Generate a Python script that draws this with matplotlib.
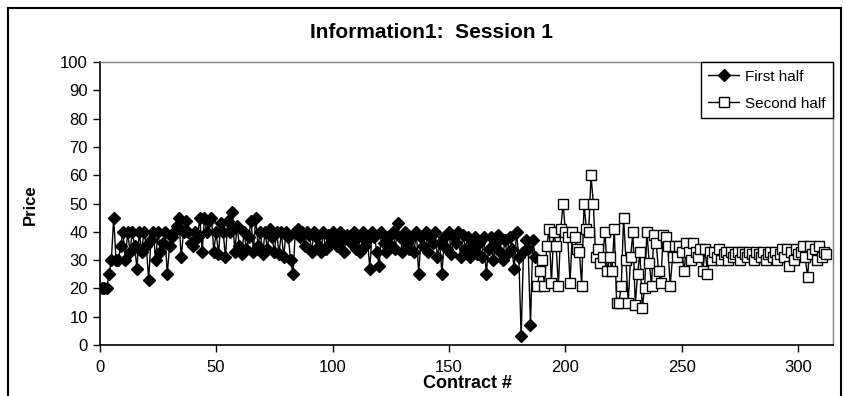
import matplotlib
matplotlib.use("Agg")
import matplotlib.pyplot as plt
import matplotlib.patches as patches
import numpy as np

plt.rcParams['font.family'] = ['Liberation Sans', 'DejaVu Sans']

# first half: contracts 1..187
first_half = [
    20, 20, 20, 25, 30, 45, 30, 30, 35, 40,
    30, 40, 33, 40, 35, 27, 40, 33, 40, 35,
    23, 37, 40, 30, 40, 33, 36, 40, 25, 35,
    38, 40, 42, 45, 31, 40, 44, 40, 36, 35,
    40, 38, 45, 33, 45, 40, 44, 45, 33, 40,
    32, 43, 40, 31, 44, 40, 47, 33, 42, 35,
    32, 40, 34, 38, 44, 33, 45, 35, 40, 32,
    40, 34, 41, 38, 33, 40, 32, 40, 31, 40,
    38, 30, 25, 40, 41, 38, 40, 35, 40, 39,
    33, 40, 38, 35, 33, 40, 34, 39, 36, 40,
    38, 35, 40, 37, 33, 39, 38, 36, 40, 34,
    38, 33, 40, 35, 37, 27, 40, 38, 33, 28,
    40, 36, 33, 38, 35, 40, 34, 43, 38, 33,
    40, 36, 34, 38, 33, 40, 25, 38, 35, 40,
    33, 38, 36, 40, 31, 36, 25, 38, 34, 40,
    32, 38, 36, 40, 31, 39, 34, 38, 31, 35,
    38, 32, 36, 31, 38, 25, 34, 38, 30, 36,
    39, 33, 30, 37, 32, 38, 34, 27, 40, 31,
    3, 33, 37, 34, 7, 37, 31,
]

# second half: contracts 188..312
second_half = [
    21, 26, 30, 21, 35, 41, 22, 40, 35, 21,
    41, 50, 40, 38, 22, 40, 38, 34, 33, 21,
    50, 41, 40, 60, 50, 31, 34, 29, 31, 40,
    26, 31, 26, 41, 15, 15, 21, 45, 30, 15,
    31, 40, 14, 25, 33, 13, 20, 40, 29, 21,
    39, 36, 26, 22, 39, 38, 35, 21, 31, 35,
    31, 35, 33, 26, 36, 33, 30, 36, 33, 31,
    34, 26, 34, 25, 33, 30, 33, 31, 34, 30,
    32, 33, 30, 33, 31, 32, 33, 30, 33, 32,
    31, 33, 32, 30, 33, 32, 31, 33, 30, 32,
    33, 31, 33, 30, 32, 34, 31, 34, 28, 33,
    30, 34, 32, 33, 35, 31, 24, 35, 32, 34,
    30, 35, 31, 33, 32,
]

x1 = np.arange(1, len(first_half) + 1)
x2 = np.arange(len(first_half) + 1, len(first_half) + len(second_half) + 1)

fig = plt.figure(figsize=(8.45, 3.96), dpi=100)
ax = fig.add_axes([0.118, 0.129, 0.868, 0.714])

ax.plot(x1, first_half, color='black', lw=1, marker='D', markersize=6.5,
        markerfacecolor='black', markeredgecolor='black', label='First half')
ax.plot(x2, second_half, color='black', lw=1, marker='s', markersize=7,
        markerfacecolor='white', markeredgecolor='black', markeredgewidth=1,
        label='Second half')

ax.set_xlim(0, 315)
ax.set_ylim(0, 100)
ax.set_xticks(range(0, 301, 50))
ax.set_yticks(range(0, 101, 10))
ax.tick_params(direction='out', length=5, width=1, labelsize=12, colors='black')
ax.tick_params(axis='x', pad=6)

for s in ['left', 'bottom']:
    ax.spines[s].set_color('black')
    ax.spines[s].set_linewidth(1.2)
for s in ['top', 'right']:
    ax.spines[s].set_color('#808080')
    ax.spines[s].set_linewidth(1)

leg = ax.legend(loc='upper right', fontsize=11, fancybox=False, framealpha=1,
                edgecolor='black', borderaxespad=0, handlelength=2.0,
                borderpad=0.5, labelspacing=0.85, handletextpad=0.4)
leg.get_frame().set_linewidth(1)

fig.text(0.511, 0.917, 'Information1:  Session 1', ha='center', va='center',
         fontsize=15, fontweight='bold')
fig.text(0.036, 0.483, 'Price', ha='center', va='center', rotation=90,
         fontsize=12, fontweight='bold')
fig.text(0.553, 0.031, 'Contract #', ha='center', va='center',
         fontsize=13, fontweight='bold')

# outer chart border (bottom edge is cut off in the original)
fig.patches.append(patches.Rectangle((8 / 845, -0.1), 833 / 845, 1.1 - 8 / 396,
                                     transform=fig.transFigure, fill=False,
                                     edgecolor='black', lw=1.5))

fig.savefig('out.png', dpi=100)
